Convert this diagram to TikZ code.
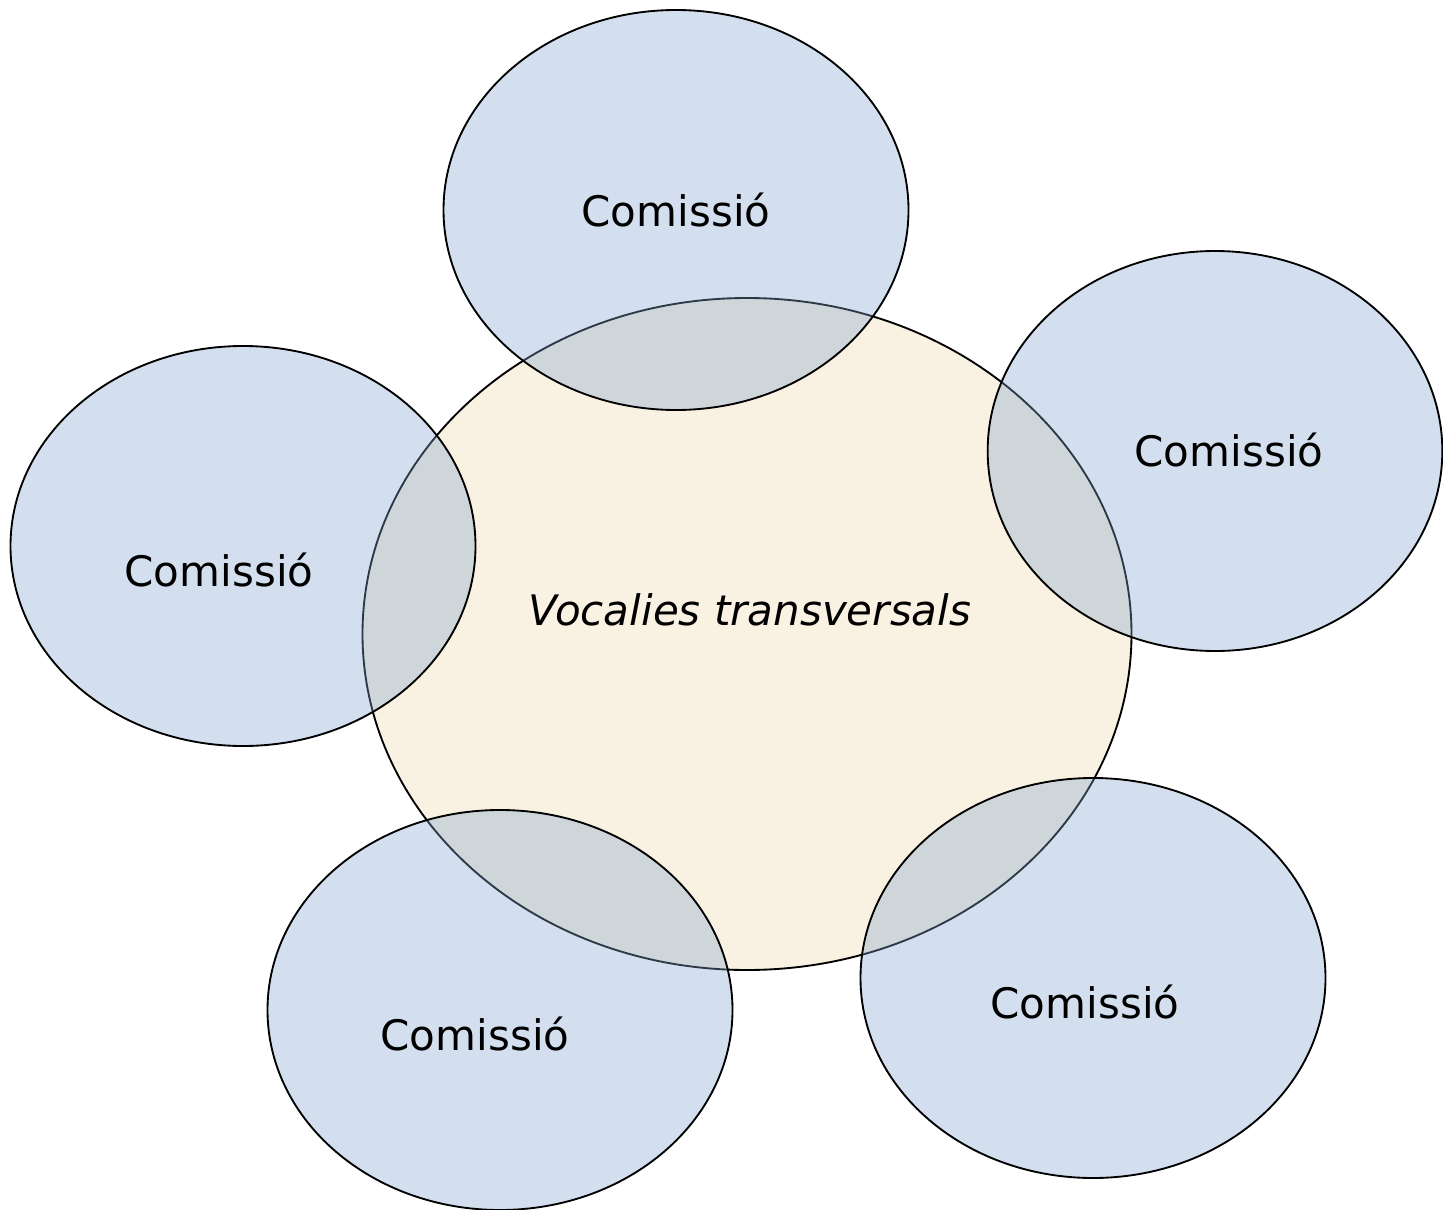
\documentclass[tikz,border=0pt]{standalone}
\usepackage{fontspec}
\setmainfont{DejaVu Sans}
\usepackage{tikz}
\usetikzlibrary{shapes.geometric}

\definecolor{voccream}{RGB}{249,241,225}
\definecolor{comblue}{RGB}{129,164,206}

\begin{document}
\begin{tikzpicture}
[
    x = 0.75pt, y = -0.75pt,
    every node/.style = {inner sep = 0pt, outer sep = 0pt},
    vocalia/.style = {ellipse, draw = black, line width = 1.4pt, fill = voccream,
                      minimum width = 576.75pt, minimum height = 504pt},
    comissio/.style = {ellipse, draw = black, line width = 1.4pt,
                       fill = comblue, fill opacity = 0.35, draw opacity = 1,
                       minimum width = 348.75pt, minimum height = 300pt},
    label/.style = {anchor = base, font = \fontsize{31.5}{36}\selectfont},
]
\useasboundingbox (0,0) rectangle (1443,1210);

\node [vocalia] (vocalies) at (747,634) {};

\node [comissio] (top) at (676,210) {};
\node [comissio, minimum width = 341pt] (right) at (1215,451) {};
\node [comissio] (left) at (243,546) {};
\node [comissio] (bleft) at (500,1010) {};
\node [comissio] (bright) at (1093,978) {};

\node [label] (tvoc) at (750,625) {\itshape Vocalies transversals};
\node [label] (ttop) at (676,226) {Comissió};
\node [label] (tright) at (1229,466) {Comissió};
\node [label] (tleft) at (219,586) {Comissió};
\node [label] (tbleft) at (475,1050) {Comissió};
\node [label] (tbright) at (1085,1018) {Comissió};
\end{tikzpicture}
\end{document}
